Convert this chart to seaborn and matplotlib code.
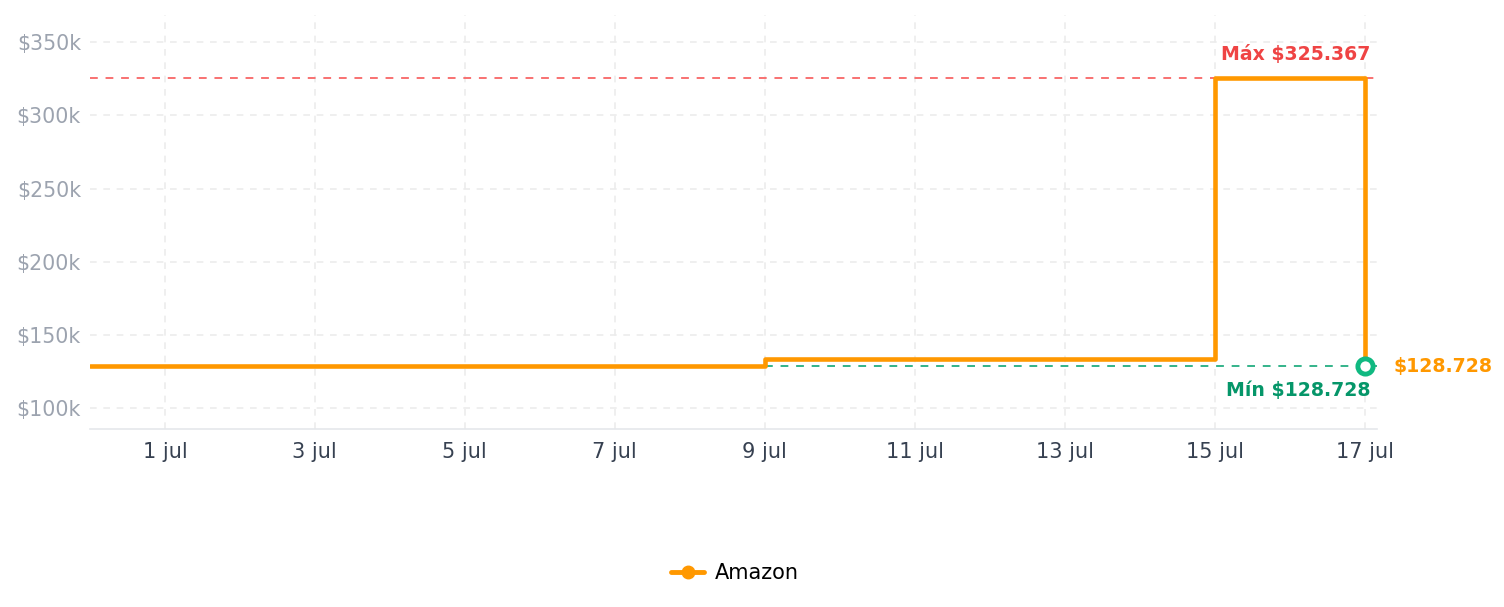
import pandas as pd
import seaborn as sns
import matplotlib.pyplot as plt
import matplotlib.dates as mdates
from matplotlib.ticker import FuncFormatter

# price history (step changes)
fechas = ['2024-06-30', '2024-07-09', '2024-07-15', '2024-07-17']
precios = [128728, 133500, 325367, 128728]
tienda = 'Amazon'
precio_max = 325367
precio_min = 128728
tick_dias = ['2024-07-01', '2024-07-03', '2024-07-05', '2024-07-07',
             '2024-07-09', '2024-07-11', '2024-07-13', '2024-07-15', '2024-07-17']
y_ticks = [100000, 150000, 200000, 250000, 300000, 350000]

df = pd.DataFrame({'fecha': pd.to_datetime(fechas), 'precio': precios, 'tienda': tienda})

sns.set_style('white')
plt.rcParams['font.family'] = ['DejaVu Sans']

fig = plt.figure(figsize=(15.04, 6.07), dpi=100)
ax = fig.add_axes([0.0598, 0.2932, 0.8558, 0.6818])

sns.lineplot(data=df, x='fecha', y='precio', hue='tienda', palette={tienda: '#ff9800'},
             drawstyle='steps-post', linewidth=3.3, ax=ax, legend=False)

x0 = pd.Timestamp('2024-06-30')
x1 = pd.Timestamp('2024-07-17 04:00')
ax.set_xlim(x0, x1)
ax.set_ylim(85700, 368500)

# max / min reference lines
ax.plot([x0, x1], [precio_max, precio_max], ls=(0, (4, 4)), color='#f87171', lw=1.4, zorder=1)
ax.plot([pd.Timestamp('2024-07-09'), x1], [precio_min, precio_min], ls=(0, (4, 4)),
        color='#34b38a', lw=1.4, zorder=1)

ultimo = df.iloc[-1]
ax.scatter([ultimo['fecha']], [ultimo['precio']], s=120, facecolor='white',
           edgecolor='#10b981', linewidth=3.5, zorder=5)

ax.text(pd.Timestamp('2024-07-17 02:00'), precio_max + 10000, 'Máx $325.367', color='#ef4444',
        fontsize=13.6, fontweight='bold', ha='right', va='bottom')
ax.text(pd.Timestamp('2024-07-17 02:00'), precio_min - 10000, 'Mín $128.728', color='#059669',
        fontsize=13.6, fontweight='bold', ha='right', va='top')
ax.annotate('$128.728', xy=(ultimo['fecha'], ultimo['precio']), xytext=(21, 0),
            textcoords='offset points', color='#ff9800', fontsize=13.6, fontweight='bold',
            va='center', ha='left', annotation_clip=False)

ax.set_xticks(pd.to_datetime(tick_dias))
ax.xaxis.set_major_formatter(FuncFormatter(lambda v, p: f"{mdates.num2date(v).day} jul"))
ax.set_yticks(y_ticks)
ax.yaxis.set_major_formatter(FuncFormatter(lambda v, p: f"${int(v / 1000)}k"))
ax.tick_params(axis='x', colors='#374151', labelsize=15, length=0, pad=9)
ax.tick_params(axis='y', colors='#9ca3af', labelsize=14.8, length=0, pad=6.5)

ax.grid(True, ls=(0, (4, 4)), color='#ececec', lw=1.2)
for s in ['top', 'right', 'left']:
    ax.spines[s].set_visible(False)
ax.spines['bottom'].set_color('#e5e7eb')
ax.spines['bottom'].set_linewidth(1.2)
ax.set_xlabel('')
ax.set_ylabel('')

handle = plt.Line2D([], [], color='#ff9800', lw=3.5, marker='o', markersize=9)
leg = fig.legend([handle], [tienda], loc='center', bbox_to_anchor=(0.4887, 0.056), frameon=False,
                 fontsize=15, handlelength=1.6, handletextpad=0.5)
for t in leg.get_texts():
    t.set_color('black')

fig.savefig('out.png', dpi=100, facecolor='white')
